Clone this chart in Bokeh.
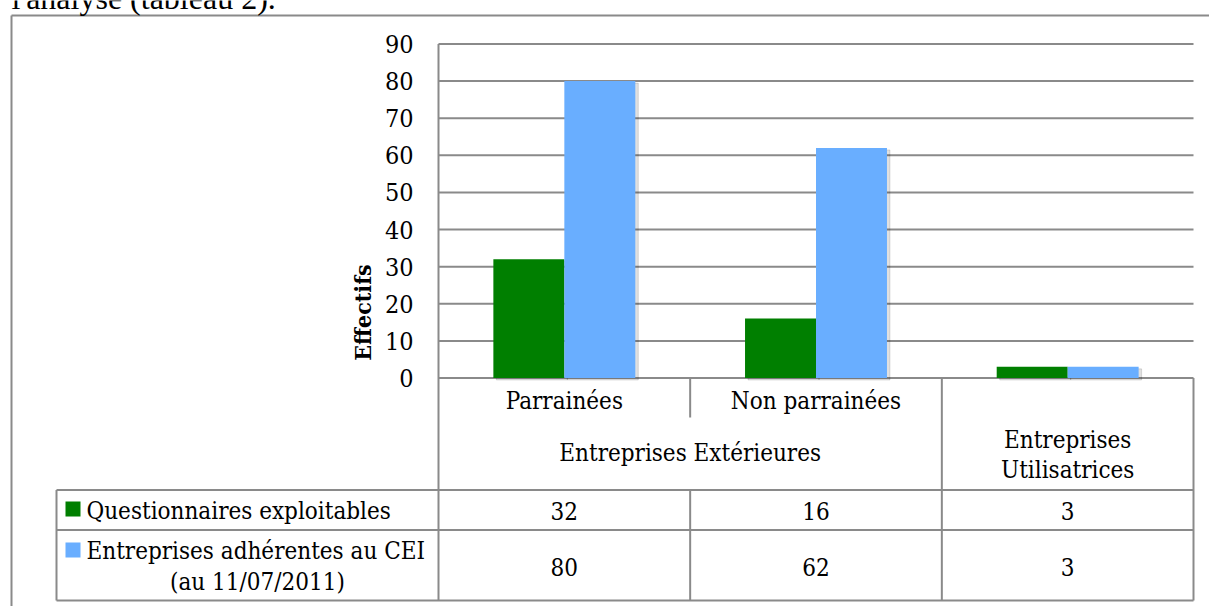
import numpy as np
from bokeh.plotting import figure
from bokeh.models import Range1d
from bokeh.core.properties import value
from bokeh.embed import file_html
from bokeh.resources import INLINE

# ---------------- data ----------------
categories = ["Parrainées", "Non parrainées", "Entreprises Utilisatrices"]
group_label = "Entreprises Extérieures"
series_names = ["Questionnaires exploitables",
                "Entreprises adhérentes au CEI (au 11/07/2011)"]
questionnaires = [32, 16, 3]
adherentes = [80, 62, 3]
y_ticks = [0, 10, 20, 30, 40, 50, 60, 70, 80, 90]
y_label = "Effectifs"
intro_text = "l'analyse (tableau 2)."

# ---------------- style ----------------
GREEN = "#007f00"
BLUE = "#69aeff"
GRID = "#8a8a8a"
FONT = value("DejaVu Serif Condensed")
FS = "24px"

W, H = 1209, 606
# pixel -> data helpers for the layout (category units / value units)
PX0, PX3 = 438.0, 1193.0
U = (PX3 - PX0) / 3.0
PY0, PY90 = 377.5, 43.5
V = (PY0 - PY90) / 90.0


def X(px):
    return (px - PX0) / U


def Y(py):
    return (PY0 - py) / V


p = figure(width=W, height=H,
           x_range=Range1d(X(0), X(W)), y_range=Range1d(Y(H), Y(0)),
           output_backend="svg", toolbar_location=None,
           x_axis_location=None, y_axis_location=None,
           min_border=0, min_border_left=0, min_border_right=0,
           min_border_top=0, min_border_bottom=0)
p.outline_line_color = None
p.xgrid.visible = False
p.ygrid.visible = False
p.background_fill_color = "white"
p.border_fill_color = "white"

# outer chart border (left + top)
p.segment(x0=[X(11), X(11)], y0=[Y(15), Y(15)], x1=[X(11), X(1215)], y1=[Y(700), Y(15)],
          line_color=GRID, line_width=2)

# intro text (document text above the chart, cut by the page top)
p.text(x=[X(11)], y=[Y(-3)], text=[intro_text], text_font=value("Liberation Serif"),
       text_font_size="32px", text_align="left", text_baseline="middle", text_color="black")

# gridlines
n = len(y_ticks)
p.segment(x0=[0] * n, x1=[3] * n, y0=y_ticks, y1=y_ticks, line_color=GRID, line_width=2)

# bars
ncat = len(categories)
xs = np.arange(ncat) + 0.5
bw = 0.282
sdx, sdy = 3.0 / U, 2.0 / V
q = np.array(questionnaires, dtype=float)
a = np.array(adherentes, dtype=float)
p.vbar(x=xs - bw / 2 + sdx, width=bw, top=q - sdy, bottom=-sdy, color="black", alpha=0.12)
p.vbar(x=xs + bw / 2 + sdx, width=bw, top=a - sdy, bottom=-sdy, color="black", alpha=0.12)
p.vbar(x=xs - bw / 2, width=bw, top=q, bottom=0, color=GREEN, line_color=None)
p.vbar(x=xs + bw / 2, width=bw, top=a, bottom=0, color=BLUE, line_color=None)

# axis line (left of plot) continuing down the table
p.segment(x0=[0], x1=[0], y0=[y_ticks[-1]], y1=[Y(600)], line_color=GRID, line_width=2)

# y tick labels
p.text(x=[X(413)] * n, y=y_ticks, text=[str(t) for t in y_ticks], text_font=FONT,
       text_font_size="25px", text_align="right", text_baseline="middle", text_color="black")

# y axis title
p.text(x=[X(362)], y=[Y(312)], text=[y_label], angle=np.pi / 2, text_font=FONT,
       text_font_size="23px", text_font_style="bold", text_align="center",
       text_baseline="middle", text_color="black")

# ---------------- data table ----------------
# vertical lines
p.segment(x0=[1, 2, 3, 1, X(56)], x1=[1, 2, 3, 1, X(56)],
          y0=[0, 0, 0, Y(489.5), Y(489.5)], y1=[Y(417), Y(600), Y(600), Y(600), Y(600)],
          line_color=GRID, line_width=2)
# horizontal lines
p.segment(x0=[X(56)] * 3, x1=[3] * 3, y0=[Y(489.5), Y(529.5), Y(600)],
          y1=[Y(489.5), Y(529.5), Y(600)], line_color=GRID, line_width=2)

txt = dict(text_font=FONT, text_font_size=FS, text_baseline="middle", text_color="black")
# category labels
p.text(x=xs[:2], y=[Y(400)] * 2, text=categories[:2], text_align="center", **txt)
p.text(x=[1.0], y=[Y(452)], text=[group_label], text_align="center", **txt)
util = categories[2].split(" ")
p.text(x=[xs[2], xs[2]], y=[Y(439), Y(469)], text=util, text_align="center", **txt)

# values rows
p.text(x=xs, y=[Y(510)] * ncat, text=[str(v) for v in questionnaires], text_align="center", **txt)
p.text(x=xs, y=[Y(566)] * ncat, text=[str(v) for v in adherentes], text_align="center", **txt)

# row headers with legend keys
p.scatter(x=[X(72.5), X(72.5)], y=[Y(508.5), Y(549.5)], marker="square", size=15,
          color=[GREEN, BLUE], line_color=None)
p.text(x=[X(86)], y=[Y(510)], text=[series_names[0]], text_align="left", **txt)
s2a, s2b = series_names[1].split(" (")
p.text(x=[X(86)], y=[Y(550)], text=[s2a], text_align="left", **txt)
p.text(x=[X(257)], y=[Y(581)], text=["(" + s2b], text_align="center", **txt)

open("out.html", "w").write(file_html(p, INLINE))
